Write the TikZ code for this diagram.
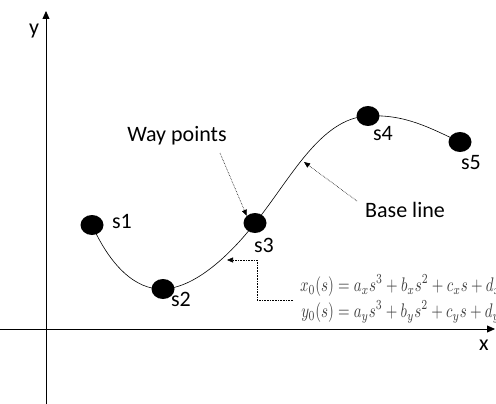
\documentclass[tikz,border=0pt]{standalone}
\usepackage{amsmath}
\usepackage{graphicx}
\usepackage{fontspec}
\setmainfont{Carlito}
\usetikzlibrary{arrows.meta,shapes.geometric}
\begin{document}
\begin{tikzpicture}[x=1pt,y=-1pt,
  lbl/.style={font=\fontsize{22}{25}\selectfont, inner sep=0pt},
  wp/.style={ellipse, fill=black, minimum width=23pt, minimum height=20pt, inner sep=0pt},
  axis/.style={line width=0.8pt, -{Triangle[length=8pt,width=7pt]}},
  note/.style={densely dotted, line width=0.6pt, -{Triangle[length=6pt,width=5pt]}}]
\useasboundingbox (0,0) rectangle (496,404);
\clip (0,0) rectangle (496,404);
% axes
\coordinate (yb) at (46,404);
\coordinate (yt) at (46,11);
\coordinate (xl) at (0,329);
\coordinate (xr) at (495,329);
\draw[axis] (yb) -- (yt);
\draw[axis] (xl) -- (xr);
\node[lbl] (ylab) at (34,31) {y};
\node[lbl] (xlab) at (484,345) {x};
% curve
\coordinate (p1) at (92,225);
\coordinate (p2) at (163,289);
\coordinate (p3) at (255,223);
\coordinate (p4) at (368,116);
\coordinate (p5) at (460,142);
\draw[line width=0.6pt] (p1) .. controls (110,265) and (135,290) .. (p2)
  .. controls (195,288) and (230,255) .. (p3)
  .. controls (290,180) and (320,118) .. (p4)
  .. controls (405,114) and (430,128) .. (p5);
\node[wp] (s1) at (p1) {};
\node[wp] (s2) at (p2) {};
\node[wp] (s3) at (p3) {};
\node[wp] (s4) at (p4) {};
\node[wp] (s5) at (p5) {};
\node[lbl] (l1) at (122,222) {s1};
\node[lbl] (l2) at (181,299) {s2};
\node[lbl] (l3) at (264,245) {s3};
\node[lbl] (l4) at (383,134) {s4};
\node[lbl] (l5) at (471,163) {s5};
% way points
\node[lbl] (wpl) at (177,136) {Way points};
\coordinate (wps) at (220,153);
\draw[note] (wps) -- (s3.north west);
% base line
\node[lbl] (bl) at (405,210) {Base line};
\coordinate (bls) at (357,201);
\coordinate (blt) at (304,162);
\draw[note] (bls) -- (blt);
% equations
\node[anchor=west, inner sep=0pt, text=black!75] (eq) at (300,300)
  {\resizebox{201pt}{30pt}{$\begin{aligned}x_0(s)&=a_xs^3+b_xs^2+c_xs+d_x\\[-3pt] y_0(s)&=a_ys^3+b_ys^2+c_ys+d_y\end{aligned}$}};
\coordinate (c1) at (227,260);
\coordinate (c2) at (257,260);
\coordinate (c3) at (257,300);
\coordinate (c4) at (293,300);
\draw[note] (c4) -- (c3) -- (c2) -- (c1);
\end{tikzpicture}
\end{document}
